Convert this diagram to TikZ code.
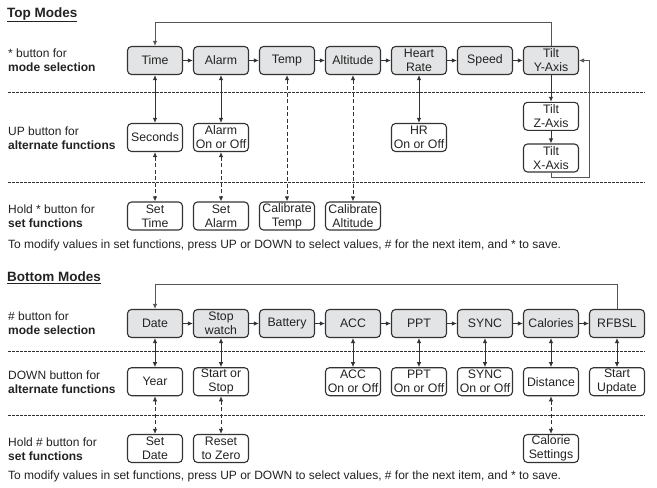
\documentclass[tikz,border=0pt]{standalone}
\usepackage{fontspec}
\setmainfont{Liberation Sans}
\usetikzlibrary{arrows.meta}
\definecolor{boxc}{HTML}{333333}
\definecolor{modefill}{HTML}{E3E4E5}
\definecolor{txt}{HTML}{222222}
\definecolor{arrc}{HTML}{333333}
\definecolor{fbc}{HTML}{555555}
\begin{document}
\begin{tikzpicture}[x=1pt,y=-1pt,
  box/.style={draw=boxc, line width=1.1pt, rounded corners=4pt, minimum width=55pt, minimum height=28pt, inner sep=1pt, align=center, font=\fontsize{12.3}{14}\selectfont, text=txt},
  mode/.style={box, fill=modefill},
  lbl/.style={anchor=west, align=left, inner sep=0pt, font=\fontsize{12}{14}\selectfont, text=txt},
  ttl/.style={anchor=west, inner sep=0pt, font=\fontsize{13.5}{15}\selectfont\bfseries, text=txt},
  arr/.style={-{Latex[length=5pt,width=4.5pt]}, line width=0.9pt, draw=arrc},
  dbl/.style={{Latex[length=5pt,width=4.5pt]}-{Latex[length=5pt,width=4.5pt]}, line width=0.9pt, draw=arrc},
  dsh/.style={dbl, dash pattern=on 4pt off 2.5pt},
  sep/.style={line width=0.6pt, draw=boxc, dash pattern=on 2.5pt off 1.5pt},
  fb/.style={line width=0.8pt, draw=fbc}
]
\useasboundingbox (0,0) rectangle (657,488);

% ---------- Top Modes ----------
\node[ttl] (t1) at (7,15) {\underline{Top Modes}};
\node[lbl] (l1) at (8,60.5) {* button for\\\textbf{mode selection}};
\node[lbl] (l2) at (8,138) {UP button for\\\textbf{alternate functions}};
\node[lbl] (l3) at (8,216.5) {Hold * button for\\\textbf{set functions}};

\coordinate (s1a) at (8,92);   \coordinate (s1b) at (645,92);
\coordinate (s2a) at (8,182.7); \coordinate (s2b) at (645,182.7);
\draw[sep] (s1a) -- (s1b);
\draw[sep] (s2a) -- (s2b);

\node[mode] (time) at (155,60.5) {Time};
\node[mode] (alarm) at (221,60.5) {Alarm};
\node[mode] (temp) at (287,60.5) {Temp};
\node[mode] (alt) at (353,60.5) {Altitude};
\node[mode] (heart) at (419,60.5) {Heart\\Rate};
\node[mode] (speed) at (485,60.5) {Speed};
\node[mode] (tilty) at (551,60.5) {Tilt\\Y-Axis};

\node[box] (seconds) at (155,137.5) {Seconds};
\node[box] (alarmonoff) at (221,137.5) {Alarm\\On or Off};
\node[box] (hr) at (419,137.5) {HR\\On or Off};
\node[box] (tiltz) at (551,116.3) {Tilt\\Z-Axis};
\node[box] (tiltx) at (551,158) {Tilt\\X-Axis};

\node[box] (settime) at (155,216) {Set\\Time};
\node[box] (setalarm) at (221,216) {Set\\Alarm};
\node[box] (caltemp) at (287,216) {Calibrate\\Temp};
\node[box] (calalt) at (353,216) {Calibrate\\Altitude};

\node[lbl, font=\fontsize{12}{14}\selectfont] (f1) at (8,245) {To modify values in set functions, press UP or DOWN to select values, \# for the next item, and * to save.};

\draw[arr] (time) -- (alarm);
\draw[arr] (alarm) -- (temp);
\draw[arr] (temp) -- (alt);
\draw[arr] (alt) -- (heart);
\draw[arr] (heart) -- (speed);
\draw[arr] (speed) -- (tilty);

\draw[fb, arr, draw=fbc] (tilty.north) |- (551,22) -| (time.north);
\draw[dbl] (time) -- (seconds);
\draw[dsh] (seconds) -- (settime);
\draw[dbl] (alarm) -- (alarmonoff);
\draw[dsh] (alarmonoff) -- (setalarm);
\draw[dsh] (temp) -- (caltemp);
\draw[dsh] (alt) -- (calalt);
\draw[dbl] (heart) -- (hr);
\draw[arr] (tilty) -- (tiltz);
\draw[arr] (tiltz) -- (tiltx);
\coordinate (r1) at (551,177);
\coordinate (r2) at (589,177);
\coordinate (r3) at (589,60.5);
\draw[arr, fb] (tiltx.south) -- (r1) -- (r2) -- (r3) -- (tilty.east);

% ---------- Bottom Modes ----------
\node[ttl] (t2) at (7,278) {\underline{Bottom Modes}};
\node[lbl] (l4) at (8,323.5) {\# button for\\\textbf{mode selection}};
\node[lbl] (l5) at (8,382) {DOWN button for\\\textbf{alternate functions}};
\node[lbl] (l6) at (8,449) {Hold \# button for\\\textbf{set functions}};

\coordinate (s3a) at (8,351.7); \coordinate (s3b) at (645,351.7);
\coordinate (s4a) at (8,415);   \coordinate (s4b) at (645,415);
\draw[sep] (s3a) -- (s3b);
\draw[sep] (s4a) -- (s4b);

\node[mode] (date) at (155,323.5) {Date};
\node[mode] (stop) at (221,323.5) {Stop\\watch};
\node[mode] (batt) at (287,323.5) {Battery};
\node[mode] (acc) at (353,323.5) {ACC};
\node[mode] (ppt) at (419,323.5) {PPT};
\node[mode] (sync) at (485,323.5) {SYNC};
\node[mode] (cal) at (551,323.5) {Calories};
\node[mode] (rfbsl) at (617,323.5) {RFBSL};

\node[box] (year) at (155,381.7) {Year};
\node[box] (startstop) at (221,381.7) {Start or\\Stop};
\node[box] (acco) at (353,381.7) {ACC\\On or Off};
\node[box] (ppto) at (419,381.7) {PPT\\On or Off};
\node[box] (synco) at (485,381.7) {SYNC\\On or Off};
\node[box] (dist) at (551,381.7) {Distance};
\node[box] (upd) at (617,381.7) {Start\\Update};

\node[box] (setdate) at (155,448.5) {Set\\Date};
\node[box] (reset) at (221,448.5) {Reset\\to Zero};
\node[box] (calset) at (551,448.5) {Calorie\\Settings};

\node[lbl, font=\fontsize{12}{14}\selectfont] (f2) at (8,476.7) {To modify values in set functions, press UP or DOWN to select values, \# for the next item, and * to save.};

\draw[arr] (date) -- (stop);
\draw[arr] (stop) -- (batt);
\draw[arr] (batt) -- (acc);
\draw[arr] (acc) -- (ppt);
\draw[arr] (ppt) -- (sync);
\draw[arr] (sync) -- (cal);
\draw[arr] (cal) -- (rfbsl);

\draw[fb, arr, draw=fbc] (rfbsl.north) |- (617,284) -| (date.north);
\draw[dbl] (date) -- (year);
\draw[dsh] (year) -- (setdate);
\draw[dbl] (stop) -- (startstop);
\draw[dsh] (startstop) -- (reset);
\draw[dbl] (acc) -- (acco);
\draw[dbl] (ppt) -- (ppto);
\draw[dbl] (sync) -- (synco);
\draw[dbl] (cal) -- (dist);
\draw[dsh] (dist) -- (calset);
\draw[dbl] (rfbsl) -- (upd);
\end{tikzpicture}
\end{document}
